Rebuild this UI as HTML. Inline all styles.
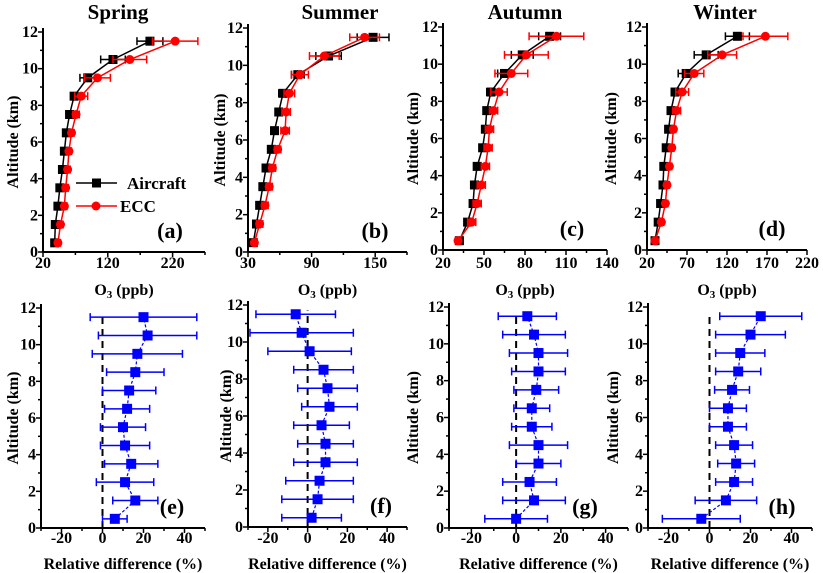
<!DOCTYPE html>
<html><head><meta charset="utf-8"><style>
html,body{margin:0;padding:0;background:#fff;}
svg{display:block;font-family:"Liberation Serif",serif;font-weight:bold;}
</style></head><body>
<svg id="fig" width="823" height="573" viewBox="0 0 823 573" xmlns="http://www.w3.org/2000/svg"></svg>
<script>
const alts=[0.5,1.5,2.5,3.5,4.5,5.5,6.5,7.5,8.5,9.5,10.5,11.5];
const seasons=["Spring","Summer","Autumn","Winter"];
const acSpring=[38,39,43,46,50,53,56,61,68,89,128,185];
const acSpringErr=[4,4,4,4,4,4,4,4,5,12,19,20];
const eccSpring=[43,47,53,55,58,60,64,71,79,104,154,224];
const eccSpringErr=[4,4,4,4,4,4,4,5,10,20,26,35];
const acSummer=[35,38,41,44,47,52,55,59,63,77,106,148];
const acSummerErr=[2,3,3,3,3,3,3,3,4,6,12,15];
const eccSummer=[36,41,46,50,53,58,65,66,69,79,102,140];
const eccSummerErr=[2,3,3,3,3,3,4,4,5,8,14,14];
const acAutumn=[32,38,42,43,45,49,51,52,55,65,78,98];
const acAutumnErr=[2,2,2,2,2,2,2,2,3,5,8,8];
const eccAutumn=[31,41,45,48,51,53,54,57,61,70,81,103];
const eccAutumnErr=[2,3,3,3,3,3,3,3,6,12,16,20];
const acWinter=[30,34,37,40,41,44,47,50,55,69,94,133];
const acWinterErr=[2,2,2,2,2,2,2,3,4,10,15,15];
const eccWinter=[30,38,43,45,48,51,53,57,64,79,114,168];
const eccWinterErr=[2,3,3,3,3,3,3,5,8,12,18,28];
const rdSpring=[6,16,11,14,11,10,12,13,16,17,22,20];
const rdSpringErr=[6,11,14,13,12,11,11,13,14,22,24,26];
const rdSummer=[2,5,6,9,9,7,11,10,8,1,-3,-6];
const rdSummerErr=[15,18,17,16,14,14,14,15,15,21,26,20];
const rdAutumn=[0,8,6,10,10,7,7,9,10,10,8,5];
const rdAutumnErr=[14,14,12,10,13,9,8,10,12,13,14,13];
const rdWinter=[-4,8,12,13,12,9,9,11,14,15,20,25];
const rdWinterErr=[19,15,9,9,9,9,9,8.5,11,12,17,20];
const topXTicks=[[20,120,220],[30,90,150],[20,50,80,110,140],[20,70,120,170,220]];
const botXTicks=[-20,0,20,40];
const yTicks=[0,2,4,6,8,10,12];

const NS="http://www.w3.org/2000/svg";
const svg=document.getElementById('fig');
function el(tag,attrs,parent){const e=document.createElementNS(NS,tag);for(const k in attrs)e.setAttribute(k,attrs[k]);(parent||svg).appendChild(e);return e;}

const topPanels=[
 {x0:43,x1:205,xmin:20,xmax:270,y0:252,y1:32,minor:50,ytx:13,ac:acSpring,acE:acSpringErr,ec:eccSpring,ecE:eccSpringErr,lab:"(a)",lx:170,tx:118},
 {x0:248,x1:407,xmin:30,xmax:180,y0:252,y1:28,minor:30,ytx:220,ac:acSummer,acE:acSummerErr,ec:eccSummer,ecE:eccSummerErr,lab:"(b)",lx:375,tx:340},
 {x0:443,x1:607,xmin:20,xmax:140,y0:250,y1:27,minor:15,ytx:413,ac:acAutumn,acE:acAutumnErr,ec:eccAutumn,ecE:eccAutumnErr,lab:"(c)",lx:572,tx:525},
 {x0:647,x1:807,xmin:20,xmax:220,y0:250,y1:27,minor:25,ytx:611,ac:acWinter,acE:acWinterErr,ec:eccWinter,ecE:eccWinterErr,lab:"(d)",lx:772,tx:725}
];
const botPanels=[
 {x0:41,x1:205,y0:528,y1:308,ytx:13,d:rdSpring,e:rdSpringErr,lab:"(e)",lx:172},
 {x0:248,x1:407,y0:527,y1:305,ytx:226,d:rdSummer,e:rdSummerErr,lab:"(f)",lx:381},
 {x0:449,x1:628,y0:528,y1:307,ytx:413,d:rdAutumn,e:rdAutumnErr,lab:"(g)",lx:585},
 {x0:648,x1:812,y0:528,y1:307,ytx:613,d:rdWinter,e:rdWinterErr,lab:"(h)",lx:782}
];

function axes(g,p,xmin,xmax,xt,minor,xlabelY){
  const sx=v=>p.x0+(v-xmin)/(xmax-xmin)*(p.x1-p.x0);
  const sy=v=>p.y0-(v/12)*(p.y0-p.y1);
  el('line',{x1:p.x0,y1:p.y0,x2:p.x1,y2:p.y0,stroke:'#000','stroke-width':2,},g);
  el('line',{x1:p.x0,y1:p.y0,x2:p.x0,y2:p.y1-4,stroke:'#000','stroke-width':2,},g);
  for(let v=xmin;v<=xmax+1e-6;v+=minor){
    const major=xt.some(t=>Math.abs(t-v)<1e-6);
    el('line',{x1:sx(v),y1:p.y0,x2:sx(v),y2:p.y0+(major?5:3),stroke:'#000','stroke-width':1.5},g);
  }
  xt.forEach(t=>{const tx=el('text',{x:sx(t),y:xlabelY,'text-anchor':'middle','font-size':16},g);tx.textContent=t;
    
    });
  for(let v=0;v<=12;v++){
    const major=v%2===0;
    el('line',{x1:p.x0,y1:sy(v),x2:p.x0-(major?5:3),y2:sy(v),stroke:'#000','stroke-width':1.5},g);
  }
  yTicks.forEach(t=>{const tx=el('text',{x:p.x0-5,y:sy(t)+5,'text-anchor':'end','font-size':16},g);tx.textContent=t;
    
    });
  const yt=el('text',{x:p.ytx,y:(p.y0+p.y1)/2,'text-anchor':'middle','font-size':16,transform:`rotate(-90 ${p.ytx} ${(p.y0+p.y1)/2})`,dy:5},g);
  yt.textContent="Altitude (km)";
  
  
  const lb=el('text',{x:p.lx,y:p.y0-14,'text-anchor':'middle','font-size':22},g);lb.textContent=p.lab;
  
  
  return [sx,sy];
}
function errbar(g,sx,y,v,e,color){
  const a=sx(v-e),b=sx(v+e);
  el('line',{x1:a,y1:y,x2:b,y2:y,stroke:color,'stroke-width':1.5},g);
  el('line',{x1:a,y1:y-4,x2:a,y2:y+4,stroke:color,'stroke-width':1.5},g);
  el('line',{x1:b,y1:y-4,x2:b,y2:y+4,stroke:color,'stroke-width':1.5},g);
}

topPanels.forEach((p,i)=>{
  const g=el('g',{});
  
  
  const t=el('text',{x:p.tx,y:19,'text-anchor':'middle','font-size':21},g);t.textContent=seasons[i];
  
  
  const [sx,sy]=axes(g,p,p.xmin,p.xmax,topXTicks[i],p.minor,268);
  const xt=el('text',{x:(p.x0+p.x1)/2,y:295,'text-anchor':'middle','font-size':16},g);
  xt.innerHTML='O<tspan font-size="11" dy="3">3</tspan><tspan dy="-3"> (ppb)</tspan>';
  
  
  [[p.ac,p.acE,'#000','aircraft'],[p.ec,p.ecE,'#f00','ecc']].forEach(([d,e,c,nm])=>{
    const sg=el('g',{},g);
    
    
    el('polyline',{points:d.map((v,k)=>sx(v)+','+sy(alts[k])).join(' '),fill:'none',stroke:c,'stroke-width':1.5},sg);
    d.forEach((v,k)=>{
      errbar(sg,sx,sy(alts[k]),v,e[k],c);
      let m;
      if(nm==='aircraft') m=el('rect',{x:sx(v)-4.5,y:sy(alts[k])-4.5,width:9,height:9,fill:c},sg);
      else m=el('circle',{cx:sx(v),cy:sy(alts[k]),r:4.5,fill:c},sg);
      
      
    });
  });
});
const lg=el('g',{});


el('line',{x1:76,y1:183,x2:117,y2:183,stroke:'#000','stroke-width':1.5},lg);
el('rect',{x:92,y:178.5,width:9,height:9,fill:'#000'},lg);
const l1=el('text',{x:127,y:189,'font-size':17},lg);l1.textContent='Aircraft';


el('line',{x1:76,y1:206,x2:117,y2:206,stroke:'#f00','stroke-width':1.5},lg);
el('circle',{cx:96,cy:206,r:4.5,fill:'#f00'},lg);
const l2=el('text',{x:120,y:212,'font-size':17},lg);l2.textContent='ECC';



botPanels.forEach((p,i)=>{
  const g=el('g',{});
  
  
  const [sx,sy]=axes(g,p,-30,50,botXTicks,10,543);
  const xt=el('text',{x:(p.x0+p.x1)/2,y:569,'text-anchor':'middle','font-size':16},g);
  xt.textContent='Relative difference (%)';
  
  
  const z=el('line',{x1:sx(0),y1:p.y0,x2:sx(0),y2:sy(11.7),stroke:'#000','stroke-width':2,'stroke-dasharray':'7,5'},g);
  
  
  const sg=el('g',{},g);
  
  
  el('polyline',{points:p.d.map((v,k)=>sx(v)+','+sy(alts[k])).join(' '),fill:'none',stroke:'#00f','stroke-width':1.2,'stroke-dasharray':'3,2'},sg);
  p.d.forEach((v,k)=>{
    errbar(sg,sx,sy(alts[k]),v,p.e[k],'#00f');
    const m=el('rect',{x:sx(v)-5,y:sy(alts[k])-5,width:10,height:10,fill:'#00f'},sg);
    
    
  });
});
</script>
</body></html>
